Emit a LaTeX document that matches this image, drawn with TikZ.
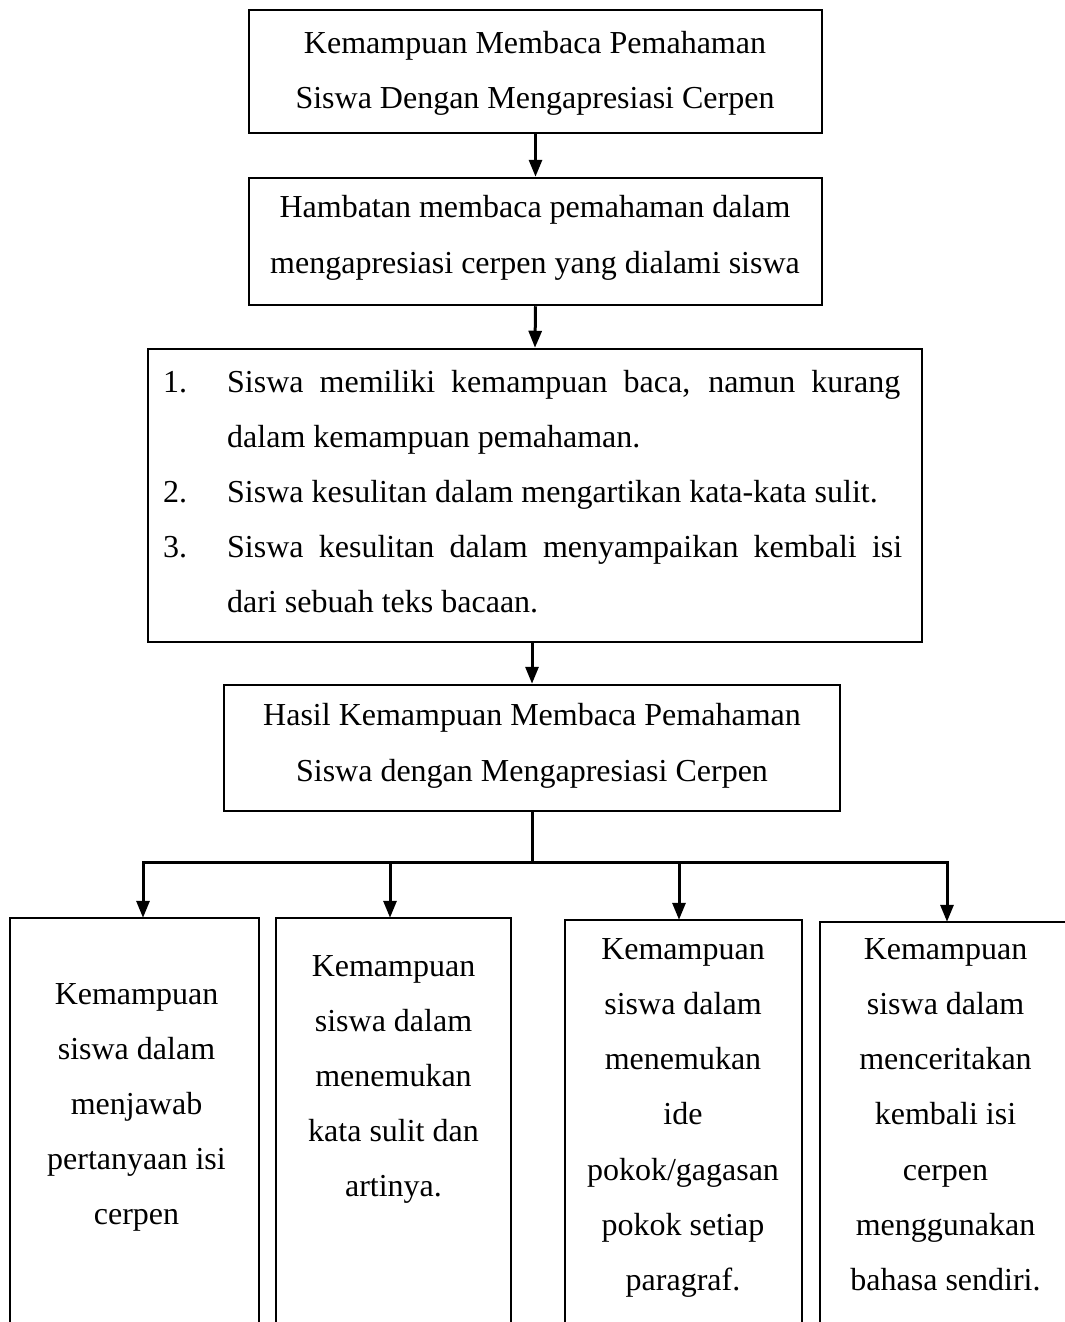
\documentclass[tikz,border=0pt]{standalone}
\usepackage{fontspec}
\setmainfont{Liberation Serif}
\usetikzlibrary{arrows.meta}
\begin{document}
\begin{tikzpicture}[x=1pt,y=-1pt,
 box/.style={draw,line width=2.5pt,inner sep=0pt},
 openbox/.style={inner sep=0pt,minimum height=424pt},
 conn/.style={line width=3pt,-{Triangle[length=17pt,width=13pt]}},
 bar/.style={line width=3pt,line cap=rect},
 side/.style={line width=2.5pt},
 txt/.style={anchor=base,inner sep=0pt,font=\fontsize{32}{55}\selectfont},
 ltxt/.style={txt,anchor=base west},
]
\useasboundingbox (0,0) rectangle (1065,1322);

% main boxes
\node[box,minimum width=573pt,minimum height=123pt] (k1) at (535.5,71.5) {};
\node[box,minimum width=573pt,minimum height=127pt] (k2) at (535.5,241.5) {};
\node[box,minimum width=774pt,minimum height=293pt] (k3) at (535,495.5) {};
\node[box,minimum width=616pt,minimum height=126pt] (k4) at (532,748) {};

% texts
\node[txt] (k1a) at (535,53) {Kemampuan Membaca Pemahaman};
\node[txt] (k1b) at (535,108) {Siswa Dengan Mengapresiasi Cerpen};
\node[txt] (k2a) at (535,217) {Hambatan membaca pemahaman dalam};
\node[txt] (k2b) at (535,273) {mengapresiasi cerpen yang dialami siswa};

\node[ltxt] (n1) at (163,392) {1.};
\node[ltxt] (t1) at (227,392) {\makebox[673pt][s]{Siswa memiliki kemampuan baca, namun kurang}};
\node[ltxt] (t1b) at (227,447) {dalam kemampuan pemahaman.};
\node[ltxt] (n2) at (163,502) {2.};
\node[ltxt] (t2) at (227,502) {Siswa kesulitan dalam mengartikan kata-kata sulit.};
\node[ltxt] (n3) at (163,557) {3.};
\node[ltxt] (t3) at (227,557) {\makebox[675pt][s]{Siswa kesulitan dalam menyampaikan kembali isi}};
\node[ltxt] (t3b) at (227,612) {dari sebuah teks bacaan.};

\node[txt] (k4a) at (532,725) {Hasil Kemampuan Membaca Pemahaman};
\node[txt] (k4b) at (532,781) {Siswa dengan Mengapresiasi Cerpen};

% vertical connectors
\draw[conn] (k1.south) -- (k2.north);
\draw[conn] (k2.south) -- (k3.north);
\draw[conn] (k3.south -| k4.north) -- (k4.north);

% bottom open boxes
\node[openbox,minimum width=249pt] (b1) at (134.5,1130) {};
\node[openbox,minimum width=235pt] (b2) at (393.5,1130) {};
\node[openbox,minimum width=237pt] (b3) at (683.5,1132) {};
\node[openbox,minimum width=260pt] (b4) at (950,1134) {};
\foreach \b in {b1,b2,b3,b4}
  \draw[side] (\b.south west) -- (\b.north west) -- (\b.north east) -- (\b.south east);

% hub and branches
\coordinate (hub) at (532,862);
\coordinate (h1) at (143,862);
\coordinate (h2) at (390,862);
\coordinate (h3) at (679,862);
\coordinate (h4) at (947,862);
\draw[bar] (k4.south) -- (hub);
\draw[bar] (h1) -- (h4);
\draw[conn] (h1) -- (h1 |- b1.north);
\draw[conn] (h2) -- (h2 |- b2.north);
\draw[conn] (h3) -- (h3 |- b3.north);
\draw[conn] (h4) -- (h4 |- b4.north);

% bottom texts
\foreach \t [count=\i from 0] in {Kemampuan,siswa dalam,menjawab,pertanyaan isi,cerpen}
  \node[txt] (b1t\i) at (136.5,1004+55*\i) {\t};
\foreach \t [count=\i from 0] in {Kemampuan,siswa dalam,menemukan,kata sulit dan,artinya.}
  \node[txt] (b2t\i) at (393.5,976+55*\i) {\t};
\foreach \t [count=\i from 0] in {Kemampuan,siswa dalam,menemukan,ide,pokok/gagasan,pokok setiap,paragraf.}
  \node[txt] (b3t\i) at (683,959+55.3*\i) {\t};
\foreach \t [count=\i from 0] in {Kemampuan,siswa dalam,menceritakan,kembali isi,cerpen,menggunakan,bahasa sendiri.}
  \node[txt] (b4t\i) at (945.5,959+55.3*\i) {\t};
\end{tikzpicture}
\end{document}
